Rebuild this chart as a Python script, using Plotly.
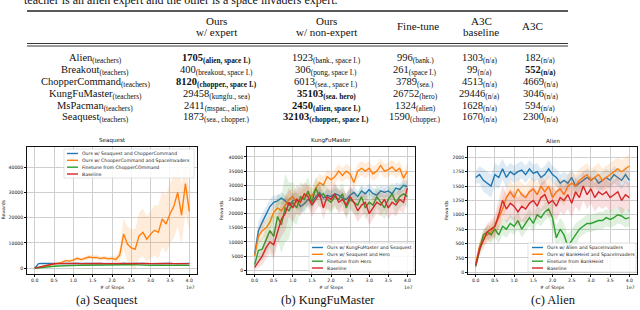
import plotly.graph_objects as go

W, H = 640, 310

# ---------------- table data ----------------
INTRO = "teacher is an alien expert and the other is a space invaders expert."
HEADERS = [["Ours", "w/ expert"], ["Ours", "w/ non-expert"], ["Fine-tune"], ["A3C", "baseline"], ["A3C"]]
GAMES = ["Alien", "Breakout", "ChopperCommand", "KungFuMaster", "MsPacman", "Seaquest"]
OURS_EXPERT = [1705, 400, 8120, 29458, 2411, 1873]
OURS_EXPERT_T = ["alien, space I.", "breakout, space I.", "chopper., space I.", "kungfu., sea", "mspac., alien", "sea., chopper."]
OURS_NONEXPERT = [1923, 306, 6013, 35103, 2450, 32103]
OURS_NONEXPERT_T = ["bank., space I.", "pong, space I.", "sea., space I.", "sea. hero", "alien, space I.", "chopper., space I."]
FINETUNE = [996, 261, 3789, 26752, 1324, 1590]
FINETUNE_T = ["bank.", "space I.", "sea.", "hero", "alien", "chopper."]
A3C_BASELINE = [1303, 99, 4513, 29446, 1628, 1670]
A3C_BASELINE_T = ["n/a"] * 6
A3C = [182, 552, 4669, 3046, 594, 2300]
A3C_T = ["n/a"] * 6
BOLD_COL = [0, 4, 0, 1, 1, 1]

# ---------------- curve data ----------------
STEPS = [0.0, 0.1, 0.2, 0.3, 0.4, 0.5, 0.6, 0.7, 0.8, 0.9, 1.0, 1.1, 1.2, 1.3, 1.4, 1.5, 1.6, 1.7, 1.8, 1.9,
         2.0, 2.1, 2.2, 2.3, 2.4, 2.5, 2.6, 2.7, 2.8, 2.9, 3.0, 3.1, 3.2, 3.3, 3.4, 3.5, 3.6, 3.7, 3.8, 3.9, 4.0]

SEA_LABELS = ["Ours w/ Seaquest and ChopperCommand", "Ours w/ ChooperCommand and SpaceInvaders",
              "Finetune from ChopperCOmmand", "Baseline"]
SEA_OURS1 = [0, 1800, 1850, 1800, 1850, 1800, 1850, 1900, 1850, 1800, 1850, 1850, 1800, 1850, 1900, 1850, 1800, 1850, 1850, 1800,
             1850, 1850, 1800, 1850, 1900, 1850, 1800, 1850, 1850, 1800, 1850, 1850, 1800, 1850, 1900, 1850, 1800, 1850, 1850, 1800, 1850]
SEA_OURS2 = [0, 300, 700, 1000, 1300, 1600, 1900, 2300, 3000, 2800, 3200, 3900, 3400, 3800, 4400, 4200, 4300, 3800, 4100, 3700,
             3900, 3500, 5200, 13500, 9500, 8000, 7500, 12800, 14200, 11500, 13500, 15000, 14200, 19500, 17500, 21500, 24500, 30000, 21000, 33500, 22500]
SEA_FT = [0, 200, 400, 550, 650, 750, 850, 950, 1000, 1050, 1100, 1100, 1150, 1150, 1100, 1150, 1200, 1150, 1150, 1200,
          1200, 1250, 1300, 1300, 1350, 1400, 1300, 1200, 1150, 1100, 1100, 1150, 1100, 1100, 1150, 1100, 1100, 1150, 1100, 1100, 1100]
SEA_BASE = [0, 400, 800, 1200, 1500, 1750, 1800, 1850, 1800, 1850, 1800, 1850, 1800, 1850, 1800, 1850, 1800, 1850, 1800, 1850,
            1800, 1850, 1800, 1850, 1800, 1850, 1800, 1850, 1800, 1850, 1800, 1850, 1800, 1850, 1800, 1850, 1800, 1850, 1800, 1850, 1800]
SEA_OURS2_SPREAD = [0, 100, 200, 300, 300, 400, 400, 500, 600, 600, 700, 800, 700, 800, 900, 900, 900, 800, 900, 900,
                    1000, 1200, 2500, 6000, 7000, 7500, 8000, 9000, 9500, 9000, 9500, 10000, 10500, 11000, 11500, 12000, 12500, 13500, 12000, 11500, 8000]

KF_LABELS = ["Ours w/ KungFuMaster and Seaquest", "Ours w/ Seaquest and Hero", "Finetune from Hero", "Baseline"]
KF_OURS1 = [5500, 14000, 17000, 19500, 22500, 24000, 24500, 25500, 24500, 23000, 24500, 25000, 22500, 23500, 25000, 24000, 26000, 27500, 25500, 26500,
            26000, 27000, 26500, 25500, 25000, 26500, 27500, 26000, 28000, 27000, 28500, 27000, 26500, 28000, 27500, 28000, 27000, 29000, 28500, 30000, 29500]
KF_OURS2 = [5000, 12000, 14000, 15000, 17000, 20500, 22000, 21000, 23000, 25000, 26000, 24000, 25000, 26000, 27000, 26000, 29000, 31000, 30000, 33000,
            32000, 33000, 35000, 33500, 35000, 34000, 31000, 35000, 36000, 35000, 36000, 34000, 35000, 37000, 35000, 35500, 36500, 35000, 36000, 32500, 35000]
KF_FT = [2000, 7000, 7500, 11000, 14000, 12000, 19000, 16000, 22000, 21000, 24000, 22000, 26000, 25000, 28000, 24000, 29000, 26000, 27000, 25000,
         24000, 26000, 25000, 27000, 22000, 25000, 24000, 23000, 26000, 22000, 24000, 23000, 26000, 24000, 22000, 25000, 27000, 24000, 26000, 27000, 26000]
KF_BASE = [1000, 3000, 5000, 8000, 10000, 9000, 14000, 18000, 20000, 24000, 22000, 25000, 24000, 27000, 26000, 23000, 25000, 27000, 22000, 26000,
           25000, 27000, 24000, 25000, 23000, 26000, 24000, 21000, 23000, 24000, 20000, 22000, 24000, 23000, 25000, 22000, 24000, 23000, 25000, 24000, 29000]
KF_OURS1_SPREAD = [1500, 3000, 3000, 3000, 2500, 2500, 2000, 2000, 2000, 2500, 2500, 2500, 2500, 2500, 2000, 2000, 2000, 2000, 2000, 2000,
                   2000, 2000, 2000, 2000, 2000, 2000, 2000, 2000, 2000, 2000, 2000, 2000, 2000, 2000, 2000, 2000, 2000, 2000, 2000, 2000, 2000]
KF_OURS2_SPREAD = [1500, 3000, 3000, 3000, 3000, 3000, 3000, 3000, 3000, 3000, 3000, 3000, 3000, 3000, 3000, 3000, 3000, 3000, 3000, 2500,
                   2500, 2500, 2500, 2500, 2500, 2500, 2500, 2500, 2500, 2500, 2500, 2500, 2500, 2500, 2500, 2500, 2500, 2500, 2500, 2500, 2500]
KF_FT_SPREAD = [1000, 3000, 4000, 5000, 6000, 7000, 8000, 10000, 12000, 10000, 7000, 6000, 5000, 5000, 5000, 4000, 4000, 4000, 4000, 4000,
                4000, 4000, 4000, 4000, 4000, 4000, 4000, 4000, 4000, 4000, 4000, 4000, 4000, 4000, 4000, 4000, 4000, 4000, 4000, 4000, 4000]
KF_BASE_SPREAD = [1000, 2000, 3000, 4000, 4000, 5000, 5000, 6000, 6000, 5000, 5000, 5000, 5000, 4000, 4000, 4000, 4000, 4000, 4000, 4000,
                  4000, 4000, 4000, 4000, 4000, 4000, 4000, 4000, 4000, 4000, 4000, 4000, 4000, 4000, 4000, 4000, 4000, 4000, 4000, 4000, 4000]

AL_LABELS = ["Ours w/ Alien and SpaceInvaders", "Ours w/ BankHeist and SpaceInvaders", "Finetune from BankHeist", "Baseline"]
AL_OURS1 = [1650, 1700, 1600, 1550, 1500, 1700, 1650, 1800, 1650, 1750, 1700, 1750, 1780, 1700, 1800, 1720, 1750, 1650, 1700, 1800,
            1700, 1650, 1550, 1600, 1550, 1650, 1500, 1550, 1600, 1650, 1600, 1650, 1550, 1600, 1650, 1600, 1700, 1650, 1600, 1700, 1600]
AL_OURS2 = [150, 450, 600, 650, 700, 800, 950, 1100, 1300, 1400, 1300, 1450, 1350, 1300, 1400, 1450, 1350, 1500, 1400, 1500,
            1300, 1400, 1450, 1350, 1500, 1550, 1500, 1600, 1650, 1700, 1600, 1650, 1700, 1600, 1650, 1700, 1750, 1800, 1750, 1800, 1850]
AL_FT = [100, 400, 650, 700, 650, 750, 650, 800, 750, 850, 800, 900, 750, 850, 950, 850, 1000, 950, 1050, 1100,
         950, 600, 750, 650, 450, 550, 650, 750, 800, 850, 850, 880, 900, 900, 950, 920, 950, 1000, 980, 930, 950]
AL_BASE = [120, 400, 550, 700, 750, 800, 1000, 1250, 1100, 1200, 1150, 1050, 1150, 1100, 1200, 1250, 1150, 1300, 1350, 1200,
           1250, 1150, 1300, 1250, 1350, 1200, 1400, 1300, 1500, 1350, 1450, 1300, 1400, 1350, 1400, 1300, 1350, 1400, 1250, 1350, 1300]
AL_OURS1_SPREAD = [100, 150, 200, 200, 200, 200, 200, 180, 180, 150, 150, 150, 150, 150, 150, 150, 150, 150, 150, 150,
                   150, 150, 150, 150, 150, 150, 150, 150, 150, 150, 150, 150, 150, 150, 150, 150, 150, 150, 150, 150, 150]
AL_OURS2_SPREAD = [50, 100, 120, 150, 150, 150, 200, 200, 200, 200, 200, 200, 200, 200, 200, 200, 200, 200, 200, 200,
                   200, 200, 200, 200, 200, 200, 200, 200, 200, 200, 200, 200, 200, 200, 200, 200, 200, 200, 200, 200, 200]
AL_FT_SPREAD = [50, 100, 100, 120, 150, 150, 150, 150, 150, 150, 150, 150, 150, 150, 150, 150, 150, 150, 150, 150,
                200, 200, 200, 200, 200, 200, 200, 150, 150, 150, 150, 150, 150, 150, 150, 150, 150, 150, 150, 150, 150]
AL_BASE_SPREAD = [50, 100, 150, 150, 150, 200, 250, 250, 250, 250, 250, 250, 250, 250, 250, 250, 250, 250, 250, 250,
                  250, 250, 250, 250, 250, 250, 250, 250, 250, 250, 250, 250, 250, 250, 250, 250, 250, 250, 250, 250, 250]

COLORS = ["#1f77b4", "#ff7f0e", "#2ca02c", "#d62728"]
BAND = ["rgba(31,119,180,0.15)", "rgba(255,127,14,0.15)", "rgba(44,160,44,0.15)", "rgba(214,39,40,0.15)"]

SERIF = "Liberation Serif, Times New Roman, serif"
SANS = "DejaVu Sans, sans-serif"


def px(x):
    return x / W


def py(y):
    return 1 - y / H


def note(text, x, y, size, family, xanchor="center", yanchor="middle", color="#111", angle=0):
    return dict(text=text, x=px(x), y=py(y), xref="paper", yref="paper", xanchor=xanchor, yanchor=yanchor,
                showarrow=False, textangle=angle, font=dict(family=family, size=size, color=color))


fig = go.Figure()
ann = []
shapes = []

# ---------------- table ----------------
ann.append(note(INTRO, 22, 0, 12, SERIF, xanchor="left"))
shapes.append(dict(type="line", xref="paper", yref="paper", x0=px(27), x1=px(568), y0=py(11), y1=py(11),
                   line=dict(color="#222", width=1.3)))
shapes.append(dict(type="line", xref="paper", yref="paper", x0=px(27), x1=px(568), y0=py(43.5), y1=py(43.5),
                   line=dict(color="#222", width=0.9)))
shapes.append(dict(type="line", xref="paper", yref="paper", x0=px(27), x1=px(568), y0=py(46), y1=py(46),
                   line=dict(color="#222", width=0.9)))

HEAD_X = [216, 326, 418, 481, 532]
COL_X = [216, 326, 415, 479, 540]
for hx, lines in zip(HEAD_X, HEADERS):
    ys = [21, 32] if len(lines) == 2 else [26.5]
    for t, yy in zip(lines, ys):
        ann.append(note(t, hx, yy, 11, SERIF))

ROW_Y = [58, 70, 82, 94, 106, 118]
cols = [(OURS_EXPERT, OURS_EXPERT_T), (OURS_NONEXPERT, OURS_NONEXPERT_T), (FINETUNE, FINETUNE_T),
        (A3C_BASELINE, A3C_BASELINE_T), (A3C, A3C_T)]
for r, g in enumerate(GAMES):
    ann.append(note(g + "<sub>(teachers)</sub>", 95, ROW_Y[r], 10.5, SERIF))
    for c, (vals, tt) in enumerate(cols):
        s = f"{vals[r]}<sub>({tt[r]})</sub>"
        if BOLD_COL[r] == c:
            s = "<b>" + s + "</b>"
        ann.append(note(s, COL_X[c], ROW_Y[r], 10.5, SERIF))

# ---------------- charts ----------------
AX_TOP, AX_BOT = 147, 274
PANELS = [
    dict(title="Seaquest", x0=27, x1=197, yr=[-2300, 48000], yt=[0, 10000, 20000, 30000, 40000],
         series=[SEA_OURS1, SEA_OURS2, SEA_FT, SEA_BASE], spreads=[None, SEA_OURS2_SPREAD, None, None],
         labels=SEA_LABELS, ylab_x=3.5, caption="(a) Seaquest", cap_x=107,
         leg=dict(box=(64, 149, 194, 178), rows=[153.5, 160.3, 167.2, 174], lx=(67, 78), tx=80)),
    dict(title="KungFuMaster", x0=247, x1=415, yr=[-1300, 43500], yt=list(range(0, 40001, 5000)),
         series=[KF_OURS1, KF_OURS2, KF_FT, KF_BASE],
         spreads=[KF_OURS1_SPREAD, KF_OURS2_SPREAD, KF_FT_SPREAD, KF_BASE_SPREAD],
         labels=KF_LABELS, ylab_x=222, caption="(b) KungFuMaster", cap_x=328,
         leg=dict(box=(309, 243, 414, 272), rows=[247.5, 254.3, 261.2, 268], lx=(312, 323), tx=325)),
    dict(title="Alien", x0=468, x1=637, yr=[-30, 2180], yt=list(range(0, 2001, 250)),
         series=[AL_OURS1, AL_OURS2, AL_FT, AL_BASE],
         spreads=[AL_OURS1_SPREAD, AL_OURS2_SPREAD, AL_FT_SPREAD, AL_BASE_SPREAD],
         labels=AL_LABELS, ylab_x=447, caption="(c) Alien", cap_x=553,
         leg=dict(box=(528, 243, 636, 272), rows=[247.5, 254.3, 261.2, 268], lx=(532, 543), tx=545)),
]

XT = [0.0, 0.5, 1.0, 1.5, 2.0, 2.5, 3.0, 3.5, 4.0]
layout_axes = {}
for i, p in enumerate(PANELS):
    n = "" if i == 0 else str(i + 1)
    xa, ya = "x" + n, "y" + n
    for k, (vals, spr) in enumerate(zip(p["series"], p["spreads"])):
        if spr is not None:
            up = [v + s for v, s in zip(vals, spr)]
            lo = [v - s for v, s in zip(vals, spr)]
            fig.add_trace(go.Scatter(x=STEPS, y=up, mode="lines", line=dict(width=0), xaxis=xa, yaxis=ya,
                                     showlegend=False, hoverinfo="skip"))
            fig.add_trace(go.Scatter(x=STEPS, y=lo, mode="lines", line=dict(width=0), fill="tonexty",
                                     fillcolor=BAND[k], xaxis=xa, yaxis=ya, showlegend=False, hoverinfo="skip"))
        fig.add_trace(go.Scatter(x=STEPS, y=vals, mode="lines", line=dict(color=COLORS[k], width=1.4),
                                 xaxis=xa, yaxis=ya, showlegend=False, name=p["labels"][k]))
    common = dict(showline=True, mirror=True, linecolor="#111", linewidth=0.8, ticks="outside", ticklen=2,
                  tickwidth=0.6, tickcolor="#111", showgrid=True, gridcolor="#cfcfcf", gridwidth=0.7,
                  zeroline=False, tickfont=dict(family=SANS, size=4.6, color="#222"))
    layout_axes["xaxis" + n] = dict(domain=[px(p["x0"]), px(p["x1"])], range=[-0.2, 4.2], tickvals=XT,
                                    ticktext=[f"{v:.1f}" for v in XT], anchor=ya, **common)
    layout_axes["yaxis" + n] = dict(domain=[py(AX_BOT), py(AX_TOP)], range=p["yr"], tickvals=p["yt"],
                                    ticktext=[str(v) for v in p["yt"]], anchor=xa, **common)
    cx = (p["x0"] + p["x1"]) / 2
    ann.append(note(p["title"], cx, AX_TOP - 1.5, 5.6, SANS, yanchor="bottom"))
    ann.append(note("Rewards", p["ylab_x"], 210, 4.6, SANS, color="#222", angle=-90))
    ann.append(note("# of Steps", cx, 287.5, 4.6, SANS, color="#222"))
    ann.append(note("1e7", p["x1"], 287.5, 4.6, SANS, xanchor="right", color="#222"))
    ann.append(note(p["caption"], p["cap_x"], 299.5, 12.5, SERIF))
    lg = p["leg"]
    bx0, by0, bx1, by1 = lg["box"]
    shapes.append(dict(type="rect", xref="paper", yref="paper", x0=px(bx0), x1=px(bx1), y0=py(by0), y1=py(by1),
                       fillcolor="rgba(255,255,255,0.85)", line=dict(color="#d0d0d0", width=0.6)))
    for k, ry in enumerate(lg["rows"]):
        shapes.append(dict(type="line", xref="paper", yref="paper", x0=px(lg["lx"][0]), x1=px(lg["lx"][1]),
                           y0=py(ry), y1=py(ry), line=dict(color=COLORS[k], width=1.4)))
        ann.append(note(p["labels"][k], lg["tx"], ry, 4.6, SANS, xanchor="left", color="#222"))

fig.update_layout(width=W, height=H, margin=dict(l=0, r=0, t=0, b=0), paper_bgcolor="white",
                  plot_bgcolor="white", showlegend=False, annotations=ann, shapes=shapes, **layout_axes)

fig.write_html("out.html", config={"displayModeBar": False},
               post_script="document.body.style.margin='0px';document.body.style.padding='0px';")
